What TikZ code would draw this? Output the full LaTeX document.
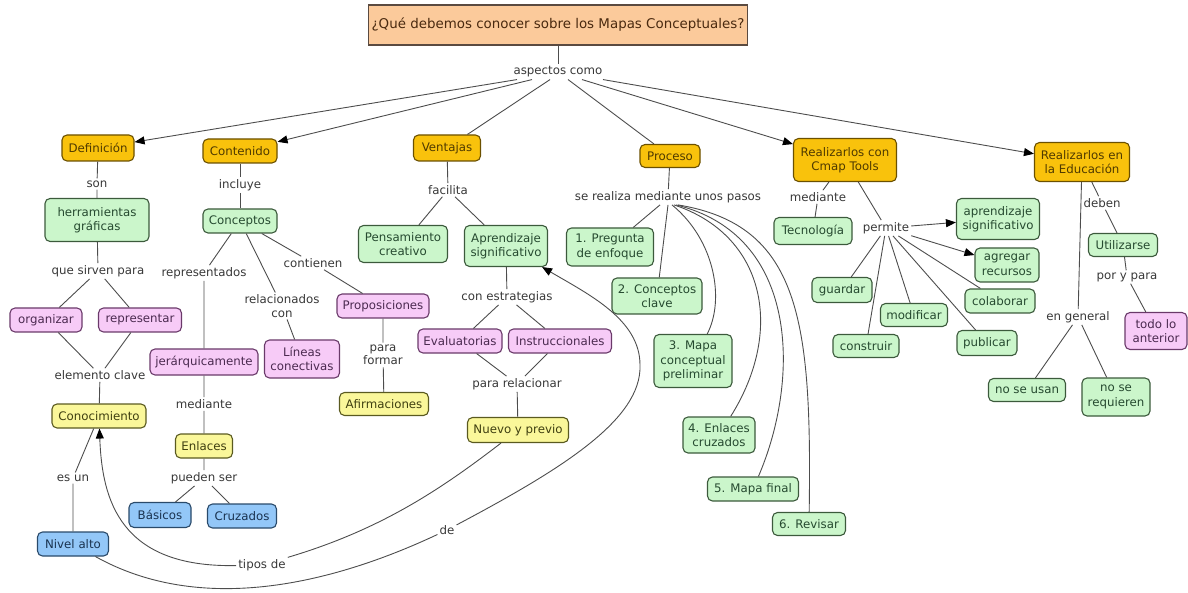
\documentclass[tikz,border=0pt]{standalone}
\usepackage{fontspec}
\setmainfont{DejaVu Sans}
\usetikzlibrary{arrows.meta}
\definecolor{cTit}{HTML}{FBCA9B}
\definecolor{cTitB}{HTML}{5A4A40}
\definecolor{cTitT}{HTML}{4A2A10}
\definecolor{cOrg}{HTML}{F9C20C}
\definecolor{cOrgB}{HTML}{6B5000}
\definecolor{cOrgT}{HTML}{4F3A00}
\definecolor{cGrn}{HTML}{CBF6CB}
\definecolor{cGrnB}{HTML}{3C5A3C}
\definecolor{cGrnT}{HTML}{264A30}
\definecolor{cPnk}{HTML}{F7CBF7}
\definecolor{cPnkB}{HTML}{6A3A6A}
\definecolor{cPnkT}{HTML}{4B2A50}
\definecolor{cYlw}{HTML}{FAF79A}
\definecolor{cYlwB}{HTML}{5A5A20}
\definecolor{cYlwT}{HTML}{3F3F10}
\definecolor{cBlu}{HTML}{93C7F8}
\definecolor{cBluB}{HTML}{2A4A6A}
\definecolor{cBluT}{HTML}{1A3350}
\definecolor{cLbl}{HTML}{383838}
\definecolor{cLine}{HTML}{4D4D4D}
\begin{document}
\begin{tikzpicture}[x=1pt,y=-1pt,
  box/.style={draw, rounded corners=5pt, line width=1.1pt, align=center,
    inner xsep=3pt, inner ysep=2pt, font=\fontsize{11.8}{14.5}\selectfont},
  titlebox/.style={draw=cTitB, fill=cTit, text=cTitT, line width=1.1pt,
    font=\fontsize{13.4}{16}\selectfont, minimum width=379, minimum height=40},
  org/.style={box, fill=cOrg, draw=cOrgB, text=cOrgT},
  grn/.style={box, fill=cGrn, draw=cGrnB, text=cGrnT},
  pnk/.style={box, fill=cPnk, draw=cPnkB, text=cPnkT},
  ylw/.style={box, fill=cYlw, draw=cYlwB, text=cYlwT},
  blu/.style={box, fill=cBlu, draw=cBluB, text=cBluT},
  lbl/.style={align=center, inner xsep=2pt, inner ysep=2pt, text=cLbl,
    font=\fontsize{11.8}{13.5}\selectfont},
  ln/.style={draw=cLine, line width=0.9pt},
  arr/.style={ln, -{Triangle[length=10pt,width=8pt,color=black]}}
]
\useasboundingbox (0,0) rectangle (1188,593);

% title
\node[titlebox] (t) at (558,25) {¿Qué debemos conocer sobre los Mapas Conceptuales?};
\node[lbl] (asp) at (558,72) {aspectos como};

% main branches
\node[org, minimum width=72, minimum height=26] (def) at (98,148) {Definición};
\node[org, minimum width=74, minimum height=24] (cont) at (240,151) {Contenido};
\node[org, minimum width=67, minimum height=26] (vent) at (447,148) {Ventajas};
\node[org, minimum width=60, minimum height=23] (proc) at (670,156) {Proceso};
\node[org, minimum width=103, minimum height=43] (cmap) at (845,160) {Realizarlos con\\Cmap Tools};
\node[org, minimum width=95, minimum height=39] (edu) at (1082,162) {Realizarlos en\\la Educación};

% Definicion
\node[lbl] (son) at (97,184) {son};
\node[grn, minimum width=104, minimum height=43] (herr) at (97,220) {herramientas\\gráficas};
\node[lbl] (qsp) at (98,271) {que sirven para};
\node[pnk, minimum width=72, minimum height=24] (orgz) at (46,320) {organizar};
\node[pnk, minimum width=83, minimum height=24] (repr) at (140,320) {representar};
\node[lbl] (elc) at (100,375) {elemento clave};
\node[ylw, minimum width=94, minimum height=24] (cono) at (99,416) {Conocimiento};
\node[lbl] (esun) at (73,478) {es un};
\node[blu, minimum width=71, minimum height=24] (niv) at (73,544) {Nivel alto};

% Contenido
\node[lbl] (incl) at (240,185) {incluye};
\node[grn, minimum width=74, minimum height=24] (conc) at (240,221) {Conceptos};
\node[lbl] (repd) at (204,273) {representados};
\node[pnk, minimum width=108, minimum height=26] (jer) at (204,362) {jerárquicamente};
\node[lbl] (medi) at (204,404) {mediante};
\node[ylw, minimum width=57, minimum height=24] (enl) at (204,446) {Enlaces};
\node[lbl] (pued) at (204,478) {pueden ser};
\node[blu, minimum width=62, minimum height=25] (bas) at (160,515) {Básicos};
\node[blu, minimum width=69, minimum height=24] (cruz) at (242,516) {Cruzados};
\node[lbl] (rel) at (282,306) {relacionados\\con};
\node[pnk, minimum width=75, minimum height=38] (lin) at (302,359) {Líneas\\conectivas};
\node[lbl] (conti) at (313,263) {contienen};
\node[pnk, minimum width=92, minimum height=24] (prop) at (383,306) {Proposiciones};
\node[lbl] (pfor) at (383,355) {para\\formar};
\node[ylw, minimum width=89, minimum height=23] (afir) at (384,404) {Afirmaciones};

% Ventajas
\node[lbl] (fac) at (448,190) {facilita};
\node[grn, minimum width=89, minimum height=37] (pens) at (403,244) {Pensamiento\\creativo};
\node[grn, minimum width=83, minimum height=41] (apr) at (506,246) {Aprendizaje\\significativo};
\node[lbl] (cest) at (507,297) {con estrategias};
\node[pnk, minimum width=84, minimum height=24] (eval) at (460,341) {Evaluatorias};
\node[pnk, minimum width=103, minimum height=24] (inst) at (560,341) {Instruccionales};
\node[lbl] (prel) at (517,384) {para relacionar};
\node[ylw, minimum width=101, minimum height=25] (nuevo) at (518,430) {Nuevo y previo};
\node[lbl] (tipos) at (262,565) {tipos de};
\node[lbl] (de) at (447,530) {de};
\coordinate (bend1) at (640,365);

% Proceso
\node[lbl] (pasos) at (668,197) {se realiza mediante unos pasos};
\node[grn, minimum width=87, minimum height=38] (p1) at (610,247) {1. Pregunta\\de enfoque};
\node[grn, minimum width=90, minimum height=36] (p2) at (657,296) {2. Conceptos\\clave};
\node[grn, minimum width=78, minimum height=53] (p3) at (693,361) {3. Mapa\\conceptual\\preliminar};
\node[grn, minimum width=72, minimum height=36] (p4) at (719,435) {4. Enlaces\\cruzados};
\node[grn, minimum width=91, minimum height=24] (p5) at (753,489) {5. Mapa final};
\node[grn, minimum width=73, minimum height=23] (p6) at (809,524) {6. Revisar};

% Cmap Tools
\node[lbl] (medc) at (818,197) {mediante};
\node[grn, minimum width=78, minimum height=27] (tec) at (813,231) {Tecnología};
\node[lbl] (perm) at (886,228) {permite};
\node[grn, minimum width=83, minimum height=41] (aps) at (998,219) {aprendizaje\\significativo};
\node[grn, minimum width=64, minimum height=34] (agr) at (1007,265) {agregar\\recursos};
\node[grn, minimum width=60, minimum height=25] (guar) at (842,290) {guardar};
\node[grn, minimum width=67, minimum height=23] (modi) at (914,315) {modificar};
\node[grn, minimum width=66, minimum height=23] (cons) at (866,346) {construir};
\node[grn, minimum width=60, minimum height=25] (publ) at (987,343) {publicar};
\node[grn, minimum width=70, minimum height=24] (cola) at (1000,301) {colaborar};

% Educacion
\node[lbl] (deb) at (1102,203) {deben};
\node[grn, minimum width=69, minimum height=23] (util) at (1123,245) {Utilizarse};
\node[lbl] (pyp) at (1127,277) {por y para};
\node[pnk, minimum width=62, minimum height=37] (todo) at (1156,331) {todo lo\\anterior};
\node[lbl] (engen) at (1078,317) {en general};
\node[grn, minimum width=77, minimum height=23] (nsu) at (1027,390) {no se usan};
\node[grn, minimum width=68, minimum height=38] (nsr) at (1116,397) {no se\\requieren};

% connectors: top
\draw[ln] (t) -- (asp);
\draw[arr] ([xshift=-41pt]asp.south) -- (def);
\draw[arr] ([xshift=-26pt]asp.south) -- (cont);
\draw[ln] ([xshift=-8pt]asp.south) -- (vent);
\draw[ln] ([xshift=10pt]asp.south) -- (proc);
\draw[arr] ([xshift=24pt]asp.south) -- (cmap);
\draw[arr] ([xshift=45pt]asp.south) -- (edu);

% Definicion
\draw[ln] (def) -- (son) -- (herr) -- (qsp);
\draw[ln] (qsp) -- (orgz);
\draw[ln] (qsp) -- (repr);
\draw[ln] (orgz) -- (elc);
\draw[ln] (repr) -- (elc);
\draw[ln] (elc) -- (cono);
\draw[ln] (niv) -- (esun) -- (cono);

% Contenido
\draw[ln] (cont) -- (incl) -- (conc);
\draw[ln] (conc) -- (repd) -- (jer) -- (medi) -- (enl) -- (pued);
\draw[ln] (pued) -- (bas);
\draw[ln] (pued) -- (cruz);
\draw[ln] (conc) -- (rel) -- (lin);
\draw[ln] (conc) -- (conti) -- (prop) -- (pfor) -- (afir);

% Ventajas
\draw[ln] (vent) -- (fac);
\draw[ln] (fac) -- (pens);
\draw[ln] (fac) -- (apr);
\draw[ln] (apr) -- (cest);
\draw[ln] (cest) -- (eval);
\draw[ln] (cest) -- (inst);
\draw[ln] (eval) -- (prel);
\draw[ln] (inst) -- (prel);
\draw[ln] (prel) -- (nuevo);

% long curves
\draw[ln] (niv) .. controls (200,615) and (330,585) .. (de);
\draw[arr] (de) .. controls (560,470) and (642,420) .. (bend1) .. controls (640,320) and (590,295) .. (apr);
\draw[ln] (nuevo) .. controls (440,490) and (380,530) .. (tipos);
\draw[arr] (tipos) .. controls (120,568) and (102,500) .. (cono);

% Proceso
\draw[ln] (proc) -- (pasos);
\draw[ln] ([xshift=-8pt]pasos.south) -- (p1);
\draw[ln] (pasos.south) -- (p2);
\draw[ln] ([xshift=4pt]pasos.south) .. controls (715,240) and (725,300) .. (p3);
\draw[ln] ([xshift=6pt]pasos.south) .. controls (765,235) and (785,330) .. (p4);
\draw[ln] ([xshift=8pt]pasos.south) .. controls (800,235) and (800,380) .. (p5);
\draw[ln] ([xshift=10pt]pasos.south) .. controls (800,225) and (812,320) .. (p6);

% Cmap
\draw[ln] (cmap) -- (medc) -- (tec);
\draw[ln] (cmap) -- (perm);
\draw[arr] (perm) -- (aps);
\draw[arr] (perm) -- (agr);
\draw[ln] (perm) -- (guar);
\draw[ln] (perm) -- (cons);
\draw[ln] (perm) -- (modi);
\draw[ln] (perm) -- (publ);
\draw[ln] (perm) -- (cola);

% Educacion
\draw[ln] (edu) -- (deb) -- (util) -- (pyp) -- (todo);
\draw[ln] (edu) -- (engen);
\draw[ln] (engen) -- (nsu);
\draw[ln] (engen) -- (nsr);
\end{tikzpicture}
\end{document}
